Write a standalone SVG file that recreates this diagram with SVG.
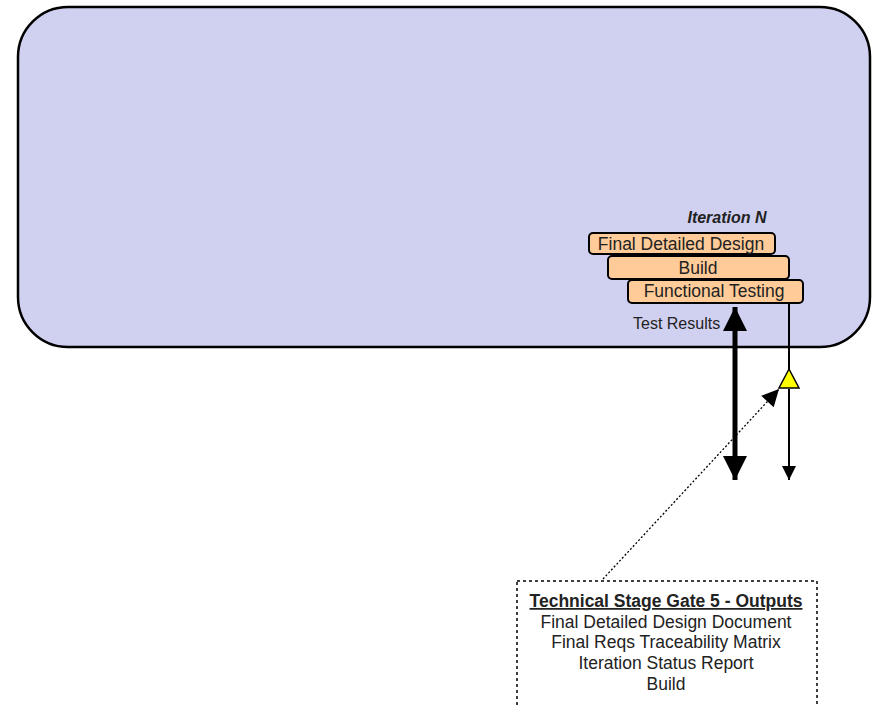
<svg xmlns="http://www.w3.org/2000/svg" width="874" height="706" viewBox="0 0 874 706">
<defs>
<style>
text{font-family:"Liberation Sans",Arial,sans-serif;fill:#222}
.box{fill:#FFCC99;stroke:#000;stroke-width:2}
.lbl{font-size:17.5px;text-anchor:middle}
.out{font-size:17.5px;text-anchor:middle}
</style>
<marker id="bigHead" viewBox="0 0 10 10" refX="10" refY="5" markerWidth="5" markerHeight="4.8" orient="auto" markerUnits="strokeWidth">
<path d="M0,0 L10,5 L0,10 z" fill="#000"/>
</marker>
<marker id="thinHead" viewBox="0 0 10 10" refX="10" refY="5" markerWidth="14" markerHeight="15" orient="auto" markerUnits="userSpaceOnUse">
<path d="M0,0 L10,5 L0,10 z" fill="#000"/>
</marker>
<marker id="dotHead" viewBox="0 0 10 10" refX="10" refY="5" markerWidth="20" markerHeight="17" orient="auto" markerUnits="userSpaceOnUse">
<path d="M0,0 L10,5 L0,10 z" fill="#000"/>
</marker>
</defs>
<rect width="874" height="706" fill="#fff"/>
<g id="container">
<rect x="18" y="7" width="852" height="340" rx="50" ry="50" fill="#D0D0F0" stroke="#000" stroke-width="2.5"/>
</g>
<g id="iteration-label">
<text x="727" y="223" font-size="16px" font-weight="bold" font-style="italic" text-anchor="middle">Iteration N</text>
</g>
<g id="node-final-detailed-design">
<rect class="box" x="589" y="233" width="186" height="21" rx="4"/>
<text class="lbl" x="681" y="250">Final Detailed Design</text>
</g>
<g id="node-build">
<rect class="box" x="608" y="256" width="181" height="23" rx="4"/>
<text class="lbl" x="698" y="274">Build</text>
</g>
<g id="node-functional-testing">
<rect class="box" x="628" y="280" width="175" height="23" rx="4"/>
<text class="lbl" x="714" y="297">Functional Testing</text>
</g>
<g id="connectors">
<line x1="735" y1="392" x2="735" y2="307" stroke="#000" stroke-width="5" marker-end="url(#bigHead)"/>
<line x1="735" y1="392" x2="735" y2="480" stroke="#000" stroke-width="5" marker-end="url(#bigHead)"/>
<line x1="789" y1="303" x2="789" y2="370" stroke="#000" stroke-width="2"/>
<line x1="789" y1="389" x2="789" y2="480" stroke="#000" stroke-width="2" marker-end="url(#thinHead)"/>
<line x1="603" y1="579" x2="779" y2="389" stroke="#000" stroke-width="1.3" stroke-dasharray="2,2" marker-end="url(#dotHead)"/>
<text x="633" y="329" font-size="16px">Test Results</text>
</g>
<g id="gate-triangle">
<path d="M789,369 L799,388 L779,388 z" fill="#FFFF00" stroke="#000" stroke-width="1.5"/>
</g>
<g id="node-outputs">
<rect x="517" y="581" width="300" height="140" fill="none" stroke="#000" stroke-width="1.5" stroke-dasharray="3,3"/>
<text class="out" x="666" y="607" font-weight="bold" text-decoration="underline">Technical Stage Gate 5 - Outputs</text>
<text class="out" x="666" y="628">Final Detailed Design Document</text>
<text class="out" x="666" y="648">Final Reqs Traceability Matrix</text>
<text class="out" x="666" y="669">Iteration Status Report</text>
<text class="out" x="666" y="690">Build</text>
</g>
</svg>
